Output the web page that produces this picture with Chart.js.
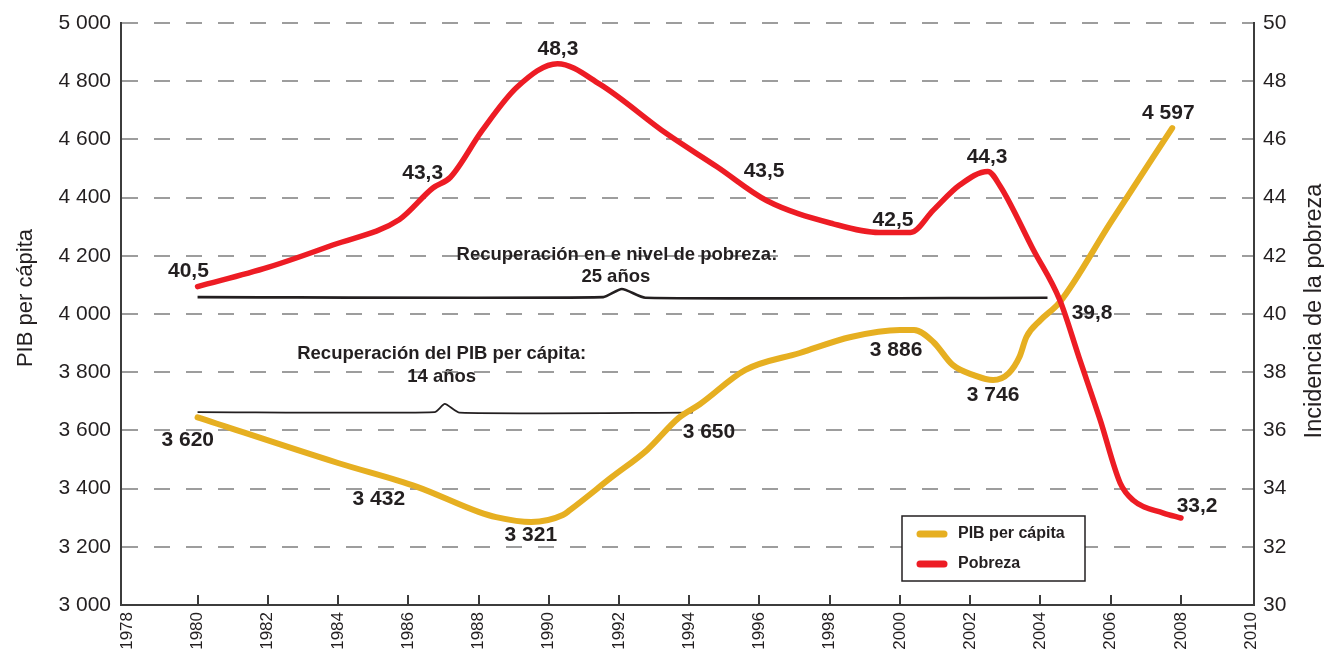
<!DOCTYPE html>
<html>
<head>
<meta charset="utf-8">
<script src="https://cdn.jsdelivr.net/npm/chart.js@4.4.1/dist/chart.umd.min.js"></script>
<style>
  html, body { margin: 0; background: #fff; }
  #wrap { width: 1324px; height: 654px; }
</style>
</head>
<body>
<div id="wrap"><canvas id="chart"></canvas></div>
<script>
// PIB per cápita (left axis)
const pibYears  = [1980, 1984, 1986.25, 1988, 1988.5, 1989.5, 1990.4, 1990.6, 1991.8, 1992.8, 1993.7, 1994.3, 1995.6, 1997.15, 1998.6, 2000, 2000.4, 2000.95, 2001.5, 2002.1, 2002.65, 2003.1, 2003.4, 2003.6, 2004, 2004.55, 2006, 2007.75];
const pibValues = [3645, 3488, 3406, 3320, 3302, 3285, 3309, 3326, 3440, 3533, 3643, 3690, 3808, 3866, 3921, 3945, 3945, 3904, 3825, 3790, 3773, 3797, 3852, 3921, 3979, 4041, 4315, 4639];

// Incidencia de la pobreza (right axis)
const pobYears  = [1980, 1982, 1983.85, 1985.75, 1986.7, 1987.2, 1988.1, 1989.1, 1990.25, 1991.45, 1993.35, 1994.8, 1996.2, 1998.1, 1999.4, 2000.3, 2000.95, 2001.7, 2002.5, 2002.85, 2003.8, 2004.55, 2005.1, 2005.7, 2006.27, 2006.64, 2007.5, 2008];
const pobValues = [40.94, 41.6, 42.37, 43.25, 44.33, 44.7, 46.3, 47.8, 48.6, 47.9, 46.2, 45.05, 43.9, 43.1, 42.8, 42.8, 43.57, 44.43, 44.9, 44.4, 42.2, 40.48, 38.5, 36.36, 34.19, 33.6, 33.16, 32.99];

// recovery braces (left axis units)
const braceTopYears  = [1980, 1991.55, 1992.08, 1992.75, 2004.2];
const braceTopValues = [4058, 4058, 4086, 4056, 4056];
const braceLowYears  = [1980, 1986.75, 1987.04, 1987.46, 1994.1];
const braceLowValues = [3663, 3663, 3691, 3661, 3661];

const xTicks     = [1978, 1980, 1982, 1984, 1986, 1988, 1990, 1992, 1994, 1996, 1998, 2000, 2002, 2004, 2006, 2008, 2010];
const leftTicks  = [3000, 3200, 3400, 3600, 3800, 4000, 4200, 4400, 4600, 4800, 5000];
const rightTicks = [30, 32, 34, 36, 38, 40, 42, 44, 46, 48, 50];

// value labels: text, year, value, axis
const pointLabels = [
  ['40,5', 1979.74, 41.48, 'y2'],
  ['43,3', 1986.41, 44.85, 'y2'],
  ['48,3', 1990.26, 49.11, 'y2'],
  ['43,5', 1996.13, 44.91, 'y2'],
  ['42,5', 1999.8, 43.23, 'y2'],
  ['44,3', 2002.48, 45.4, 'y2'],
  ['39,8', 2005.47, 40.03, 'y2'],
  ['33,2', 2008.46, 33.4, 'y2'],
  ['3 620', 1979.72, 3567, 'y'],
  ['3 432', 1985.16, 3364, 'y'],
  ['3 321', 1989.49, 3241, 'y'],
  ['3 650', 1994.56, 3595, 'y'],
  ['3 886', 1999.89, 3876, 'y'],
  ['3 746', 2002.65, 3722, 'y'],
  ['4 597', 2007.64, 4691, 'y']
];
const notes = [
  ['Recuperación en e nivel de pobreza:', 1991.94, 4203],
  ['25 años', 1991.91, 4127],
  ['Recuperación del PIB per cápita:', 1986.95, 3863],
  ['14 años', 1986.95, 3784]
];
const legendOrder = ['PIB per cápita', 'Pobreza'];

const GOLD = '#e6af21';
const RED = '#ed1c24';
const INK = '#231f20';
const FONT = '"Liberation Sans", Arial, Helvetica, sans-serif';

Chart.defaults.font.family = FONT;
Chart.defaults.color = INK;

const toPoints = (xs, ys) => xs.map((x, i) => ({ x: x, y: ys[i] }));
const spaced = v => String(v).replace(/\B(?=(\d{3})+(?!\d))/g, ' ');

const extras = {
  id: 'extras',
  beforeDatasetsDraw(chart) {
    const { ctx, scales: { x }, chartArea } = chart;
    ctx.save();
    ctx.strokeStyle = '#3c3c3c';
    ctx.lineWidth = 2;
    xTicks.slice(1, -1).forEach(t => {
      const px = Math.round(x.getPixelForValue(t));
      ctx.beginPath();
      ctx.moveTo(px, chartArea.bottom);
      ctx.lineTo(px, chartArea.bottom - 10);
      ctx.stroke();
    });
    ctx.restore();
  },
  afterDatasetsDraw(chart) {
    const { ctx, scales, chartArea } = chart;
    ctx.save();
    ctx.fillStyle = INK;
    ctx.textAlign = 'center';
    ctx.textBaseline = 'middle';

    ctx.font = 'bold 21px ' + FONT;
    pointLabels.forEach(([txt, yr, v, ax]) => {
      ctx.fillText(txt, scales.x.getPixelForValue(yr), scales[ax].getPixelForValue(v));
    });

    ctx.font = 'bold 18.5px ' + FONT;
    notes.forEach(([txt, yr, v]) => {
      ctx.fillText(txt, scales.x.getPixelForValue(yr), scales.y.getPixelForValue(v));
    });

    // axis titles
    ctx.font = '22px ' + FONT;
    ctx.textBaseline = 'alphabetic';
    ctx.save();
    ctx.translate(32, 298);
    ctx.rotate(-Math.PI / 2);
    ctx.fillText('PIB per cápita', 0, 0);
    ctx.restore();
    ctx.font = '23.5px ' + FONT;
    ctx.save();
    ctx.translate(1321, 311);
    ctx.rotate(-Math.PI / 2);
    ctx.fillText('Incidencia de la pobreza', 0, 0);
    ctx.restore();

    // legend box
    const bx = chartArea.right - 352, by = chartArea.bottom - 89;
    ctx.fillStyle = '#fff';
    ctx.fillRect(bx, by, 183, 65);
    ctx.strokeStyle = INK;
    ctx.lineWidth = 1.5;
    ctx.strokeRect(bx, by, 183, 65);
    legendOrder.forEach((name, i) => {
      const d = chart.data.datasets.find(ds => ds.label === name);
      const ly = by + 18 + i * 30;
      ctx.strokeStyle = d.borderColor;
      ctx.lineWidth = 7;
      ctx.lineCap = 'round';
      ctx.beginPath();
      ctx.moveTo(bx + 18, ly);
      ctx.lineTo(bx + 42, ly);
      ctx.stroke();
      ctx.fillStyle = INK;
      ctx.font = 'bold 16px ' + FONT;
      ctx.textAlign = 'left';
      ctx.textBaseline = 'middle';
      ctx.fillText(d.label, bx + 56, ly);
    });
    ctx.restore();
  }
};

new Chart(document.getElementById('chart'), {
  type: 'line',
  data: {
    datasets: [
      {
        label: 'Pobreza', yAxisID: 'y2', order: 0,
        data: toPoints(pobYears, pobValues),
        borderColor: RED, borderWidth: 5.5, pointRadius: 0,
        cubicInterpolationMode: 'monotone', borderCapStyle: 'round', borderJoinStyle: 'round'
      },
      {
        label: 'PIB per cápita', yAxisID: 'y', order: 1,
        data: toPoints(pibYears, pibValues),
        borderColor: GOLD, borderWidth: 6, pointRadius: 0,
        cubicInterpolationMode: 'monotone', borderCapStyle: 'round', borderJoinStyle: 'round'
      },
      {
        label: 'brace 25', yAxisID: 'y', order: 2,
        data: toPoints(braceTopYears, braceTopValues),
        borderColor: INK, borderWidth: 2.6, pointRadius: 0, tension: 0.2
      },
      {
        label: 'brace 14', yAxisID: 'y', order: 2,
        data: toPoints(braceLowYears, braceLowValues),
        borderColor: INK, borderWidth: 1.8, pointRadius: 0, tension: 0.2
      }
    ]
  },
  options: {
    responsive: true,
    maintainAspectRatio: false,
    animation: false,
    devicePixelRatio: 1,
    layout: { padding: { top: 23, right: 0, left: 0, bottom: 0 } },
    plugins: { legend: { display: false }, tooltip: { enabled: false } },
    scales: {
      x: {
        type: 'linear', min: 1977.82, max: 2010.08,
        afterBuildTicks: s => { s.ticks = xTicks.map(v => ({ value: v })); },
        afterFit: s => { s.height = 49; },
        grid: { display: false, drawTicks: false },
        border: { display: true, color: '#3c3c3c', width: 2 },
        ticks: {
          minRotation: 90, maxRotation: 90, padding: 7, autoSkip: false,
          font: { size: 17 }, color: INK,
          callback: v => String(v)
        }
      },
      y: {
        position: 'left', min: 3000, max: 5000,
        afterBuildTicks: s => { s.ticks = leftTicks.map(v => ({ value: v })); },
        afterFit: s => { s.width = 121; },
        grid: { color: '#9d9d9d', lineWidth: 2, drawTicks: false },
        border: { display: true, color: '#3c3c3c', width: 2, dash: [16, 16] },
        ticks: { padding: 10, font: { size: 21 }, color: INK, callback: v => spaced(v) }
      },
      y2: {
        position: 'right', min: 30, max: 50,
        afterBuildTicks: s => { s.ticks = rightTicks.map(v => ({ value: v })); },
        afterFit: s => { s.width = 70; },
        grid: { display: false, drawTicks: false },
        border: { display: true, color: '#3c3c3c', width: 2 },
        ticks: { padding: 9, font: { size: 21 }, color: INK, callback: v => String(v) }
      }
    }
  },
  plugins: [extras]
});
</script>
</body>
</html>
